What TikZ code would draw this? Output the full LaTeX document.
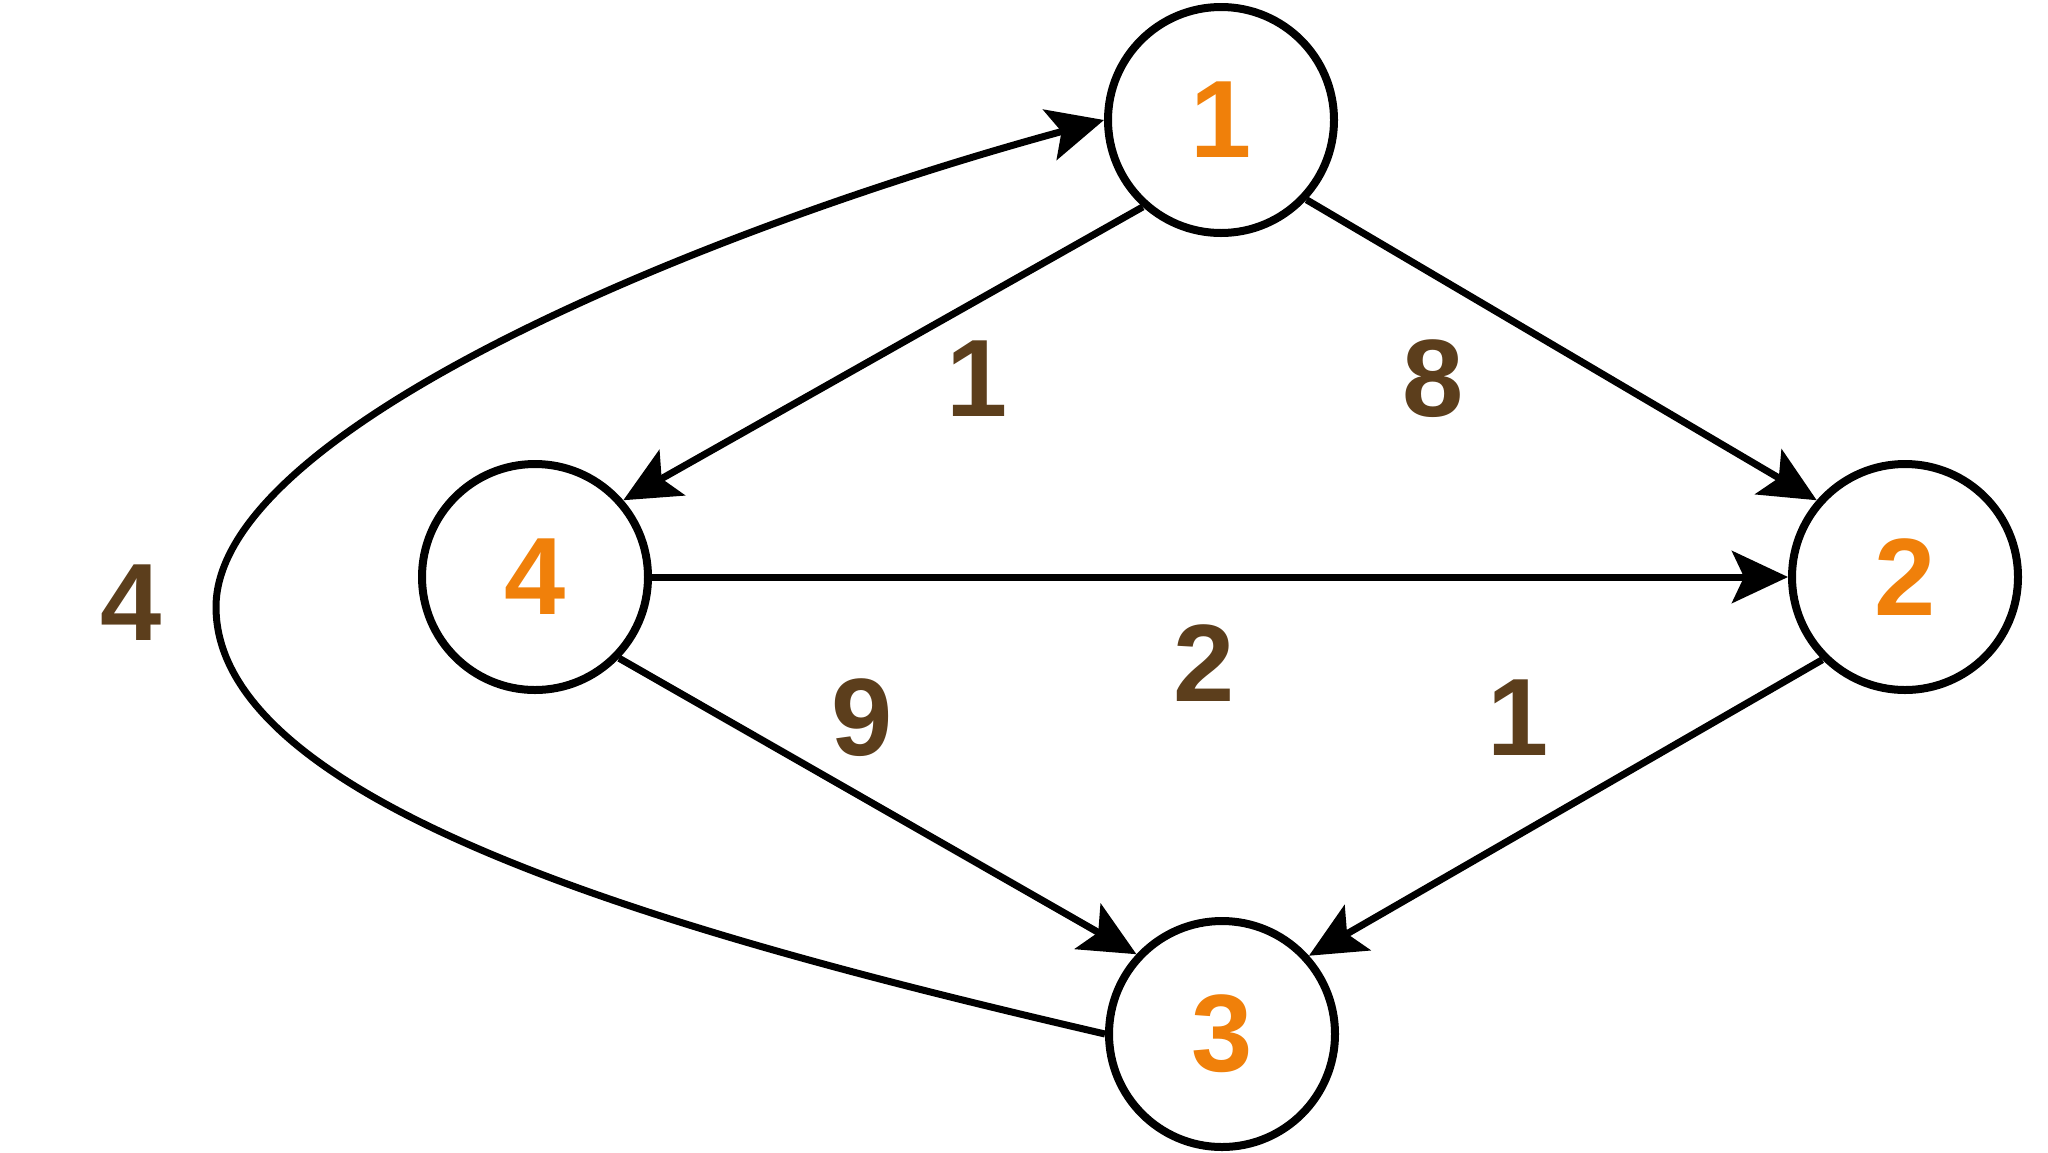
\documentclass[tikz,border=0pt]{standalone}
\usepackage{fontspec}
\setmainfont{Liberation Sans}
\usetikzlibrary{arrows.meta}
\definecolor{nodeorange}{RGB}{240,128,10}
\definecolor{labelbrown}{RGB}{92,62,28}
\begin{document}
\begin{tikzpicture}[x=0.5pt,y=-0.5pt,
  vertex/.style={circle,draw=black,line width=4pt,fill=white,minimum size=113pt,inner sep=0pt,
    text=nodeorange,font=\fontsize{55}{57}\selectfont\bfseries},
  wlabel/.style={text=labelbrown,font=\fontsize{55}{57}\selectfont\bfseries,inner sep=0pt},
  edge/.style={line width=3.5pt,-{Stealth[length=28pt,width=26pt,inset=6pt]}}]
\useasboundingbox[fill=white] (0,0) rectangle (2048,1152);
\node[vertex] (n1) at (1221,120) {1};
\node[vertex] (n2) at (1905,577) {2};
\node[vertex] (n3) at (1222,1034) {3};
\node[vertex] (n4) at (535,577) {4};
\draw[edge] (n1.228) -- (n4.41);
\draw[edge] (n1.317) -- (n2.139);
\draw[edge] (n4.east) -- (n2.west);
\draw[edge] (n4.316) -- (n3.137);
\draw[edge] (n2.225) -- (n3.42);
\coordinate (lft) at (216,607);
\draw[edge] (n3.west) .. controls (700,940) and (216,810) .. (lft)
  .. controls (216,430) and (700,230) .. (n1.west);
\node[wlabel] (w14) at (977,379) {1};
\node[wlabel] (w12) at (1433,379) {8};
\node[wlabel] (w31) at (131,603) {4};
\node[wlabel] (w42) at (1204,663) {2};
\node[wlabel] (w43) at (862,718) {9};
\node[wlabel] (w23) at (1518,718) {1};
\end{tikzpicture}
\end{document}
